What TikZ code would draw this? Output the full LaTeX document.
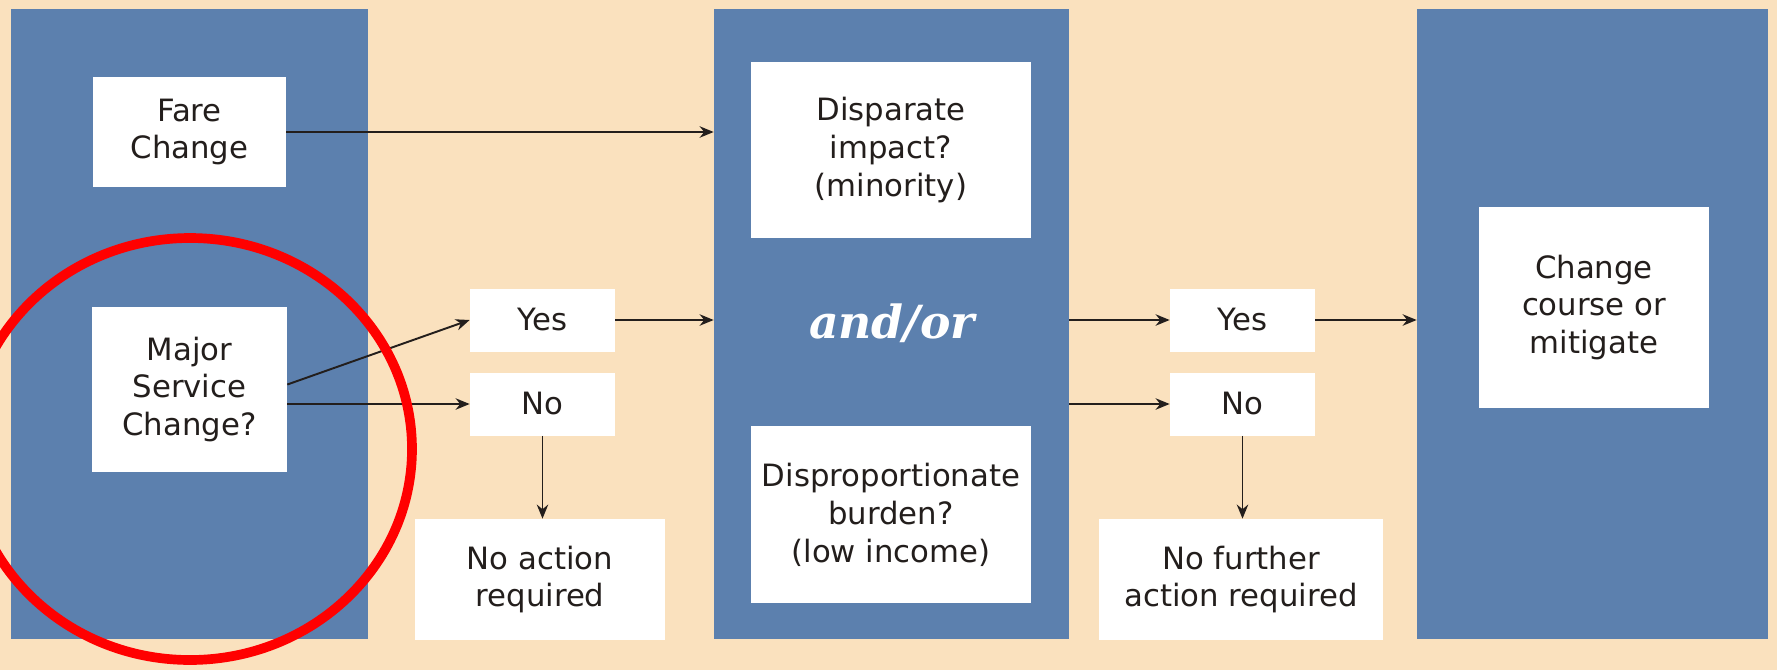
\documentclass[tikz,border=0pt]{standalone}
\usepackage{fontspec}
\setmainfont{DejaVu Sans}
\newfontfamily\andorfont{DejaVu Serif}
\usetikzlibrary{
    arrows.meta,
    calc
}
\definecolor{sandbg}{RGB}{250,225,190}
\definecolor{stageblue}{RGB}{92,128,174}
\definecolor{inkdark}{RGB}{35,30,28}
\definecolor{markred}{RGB}{255,0,0}
\tikzset{
    % --- Tall blue stage column ---
    stage/.style = {
        rectangle, fill=stageblue, inner sep=0pt,
        minimum height=12.6cm
    },
    % --- White text box ---
    box/.style = {
        rectangle, fill=white, inner sep=0pt,
        align=center, text=inkdark,
        font=\fontsize{17.5}{21.6}\selectfont
    },
    % --- Short yes/no answer box ---
    answer/.style = {
        box, minimum width=2.9cm, minimum height=1.26cm
    },
    % --- Large question box in the middle stage ---
    question/.style = {
        box, minimum width=5.6cm, minimum height=3.54cm
    },
    % --- Outcome box below an answer ---
    outcome/.style = {
        box, minimum height=2.42cm
    },
    % --- Joining word between the questions ---
    joiner/.style = {
        text=white, font=\andorfont\bfseries\itshape\fontsize{26}{30}\selectfont
    },
    % --- Flow arrow ---
    flow/.style = {
        ->, draw=inkdark, line width=1.1pt
    },
    % --- Red marker ring ---
    ring/.style = {
        draw=markred, line width=5.5pt
    }
}

\begin{document}
\begin{tikzpicture}[
    x=0.02cm, y=-0.02cm,
    >={Stealth[length=8pt,width=6.5pt]}
]

% ---------------------------------------------------------
% Backdrop
% ---------------------------------------------------------
\useasboundingbox (0,0) rectangle (1777,670);
\fill[sandbg] (0,0) rectangle (1777,670);

% ---------------------------------------------------------
% Stage columns
% ---------------------------------------------------------
\node[stage, minimum width=7.14cm] (colL) at (189.5,324) {};
\node[stage, minimum width=7.1cm] (colM) at (891.5,324) {};
\node[stage, minimum width=7.02cm] (colR) at (1592.5,324) {};

% ---------------------------------------------------------
% Left stage: kind of change
% ---------------------------------------------------------
\node[box, minimum width=3.86cm, minimum height=2.2cm] (fare) at (189.5,132) {Fare\\Change};
\node[box, minimum width=3.9cm, minimum height=3.3cm] (major) at (189.5,389.5) {Major\\Service\\Change?};

% Yes / No after the service change
\node[answer] (yesL) at (542.5,320) {Yes};
\node[answer] (noL) at (542.5,404) {No};
\node[outcome, minimum width=5cm] (noAction) at (540,579.5) {No action\\required};

% ---------------------------------------------------------
% Middle stage: equity analysis
% ---------------------------------------------------------
\node[question] (disparate) at (891,150) {Disparate\\impact?\\(minority)};
\node[joiner] (andor) at (892,323) {and/or};
\node[question] (disprop) at (891,514.5) {Disproportionate\\burden?\\(low income)};

% Yes / No after the analysis
\node[answer] (yesR) at (1242.5,320) {Yes};
\node[answer] (noR) at (1242.5,404) {No};
\node[outcome, minimum width=5.68cm] (noFurther) at (1241,579.5) {No further\\action required};

% ---------------------------------------------------------
% Right stage: response
% ---------------------------------------------------------
\node[box, minimum width=4.6cm, minimum height=4.02cm] (change) at (1594,307.5) {Change\\course or\\mitigate};

% ---------------------------------------------------------
% Connections
% ---------------------------------------------------------
\draw[flow] (fare.east) -- (fare.east -| colM.west);
\draw[flow] ($(major.east)+(0,-5)$) -- (yesL.west);
\draw[flow] (major.east |- noL.west) -- (noL.west);
\draw[flow] (noL.south) -- (noL.south |- noAction.north);
\draw[flow] (yesL.east) -- (yesL.east -| colM.west);

\draw[flow] (yesR.west -| colM.east) -- (yesR.west);
\draw[flow] (noR.west -| colM.east) -- (noR.west);
\draw[flow] (noR.south) -- (noR.south |- noFurther.north);
\draw[flow] (yesR.east) -- (yesR.east -| colR.west);

% ---------------------------------------------------------
% Marker ring round the service change
% ---------------------------------------------------------
\draw[ring] (190,449) ellipse [x radius=222, y radius=211];

\end{tikzpicture}
\end{document}
